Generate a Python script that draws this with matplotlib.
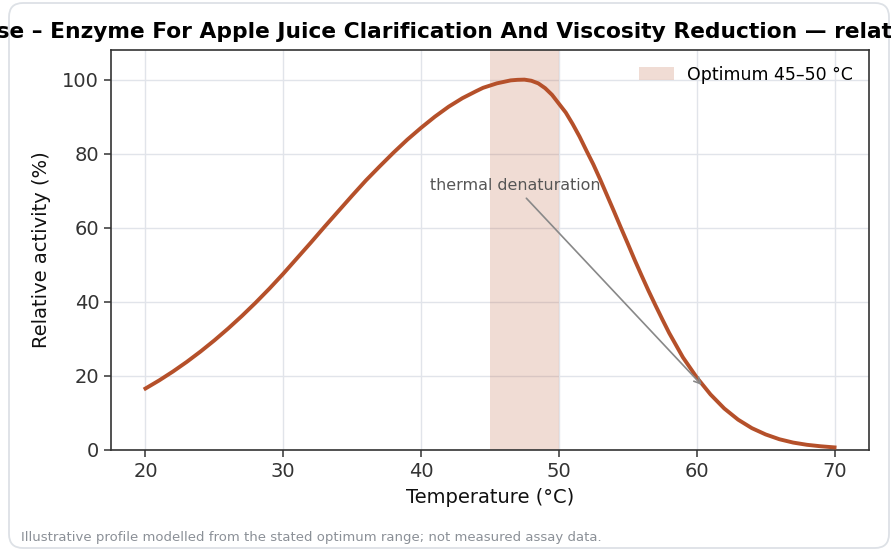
import matplotlib
matplotlib.use("Agg")
import matplotlib.pyplot as plt
from matplotlib.patches import FancyBboxPatch, Patch

# temperature (deg C) and relative activity (%)
temps = [20, 21, 22, 23, 24, 25, 26, 27, 28, 29, 30, 31, 32, 33, 34, 35, 36, 37,
         38, 39, 40, 41, 42, 43, 44, 44.5, 45, 45.5, 46, 46.5, 47, 47.5, 48,
         48.5, 49, 49.5, 50, 50.5, 51, 51.5, 52, 52.5, 53, 53.5, 54, 54.5, 55,
         55.5, 56, 56.5, 57, 57.5, 58, 59, 60, 61, 62, 63, 64, 65, 66, 67, 68,
         69, 70]
activity = [16.6, 18.8, 21.2, 23.8, 26.6, 29.6, 32.8, 36.2, 39.8, 43.6, 47.6,
            51.8, 56.0, 60.3, 64.5, 68.7, 72.8, 76.6, 80.3, 83.8, 87.0, 90.0,
            92.7, 95.0, 96.9, 97.8, 98.4, 99.0, 99.4, 99.8, 99.95, 100.0, 99.7,
            99.0, 97.7, 95.9, 93.5, 91.1, 88.0, 84.6, 80.8, 77.1, 73.0, 68.7,
            64.4, 60.0, 55.7, 51.3, 47.1, 43.0, 39.1, 35.3, 31.6, 25.0, 19.6,
            15.0, 11.2, 8.2, 5.9, 4.2, 2.9, 2.0, 1.4, 1.0, 0.7]
opt_range = (45, 50)

line_col = "#b5502a"

fig = plt.figure(figsize=(8.91, 5.52), dpi=100)
ax = fig.add_axes([0.1246, 0.1848, 0.8507, 0.7246])

# rounded card behind everything
card = FancyBboxPatch((0.09, 0.04), 8.8, 5.45,
                      boxstyle="round,pad=0,rounding_size=0.14",
                      transform=fig.dpi_scale_trans, facecolor="white",
                      edgecolor="#dde1e6", lw=1.3, zorder=-10)
fig.patches.append(card)

ax.axvspan(opt_range[0], opt_range[1], color=line_col, alpha=0.2, lw=0, zorder=1)
ax.plot(temps, activity, color=line_col, lw=2.8, zorder=3,
        solid_joinstyle="round")

ax.set_xlim(17.5, 72.5)
ax.set_ylim(0, 108)
ax.set_xticks([20, 30, 40, 50, 60, 70])
ax.set_yticks([0, 20, 40, 60, 80, 100])
ax.grid(True, color="#e1e4ea", lw=1.0, zorder=0)
ax.set_axisbelow(True)

for s in ax.spines.values():
    s.set_color("#333333")
    s.set_linewidth(1.2)
ax.tick_params(labelsize=14, colors="#333333", length=5, width=1.1)

ax.set_xlabel("Temperature (°C)", fontsize=14, color="#111111", labelpad=5.5)
ax.set_ylabel("Relative activity (%)", fontsize=14, color="#111111", labelpad=8)
# the title is wider than the figure and gets clipped at both sides
ax.set_title("Pectinase – Enzyme For Apple Juice Clarification And Viscosity "
             "Reduction — relative activity", fontsize=15.7, fontweight="bold",
             pad=9, x=0.468)

ax.annotate("thermal denaturation", xy=(60.5, 17), xytext=(46.8, 71.3),
            ha="center", va="center", fontsize=11.4, color="#555555",
            arrowprops=dict(arrowstyle="->", color="#888888", lw=1.2))

ax.legend(handles=[Patch(color=line_col, alpha=0.2, lw=0,
                         label="Optimum 45–50 °C")],
          loc="upper right", frameon=False, fontsize=12.5)

fig.text(21 / 891, 1 - 538 / 552,
         "Illustrative profile modelled from the stated optimum range; not measured assay data.",
         fontsize=9.5, color="#8b9097", va="center")

fig.savefig("out.png", dpi=100)
